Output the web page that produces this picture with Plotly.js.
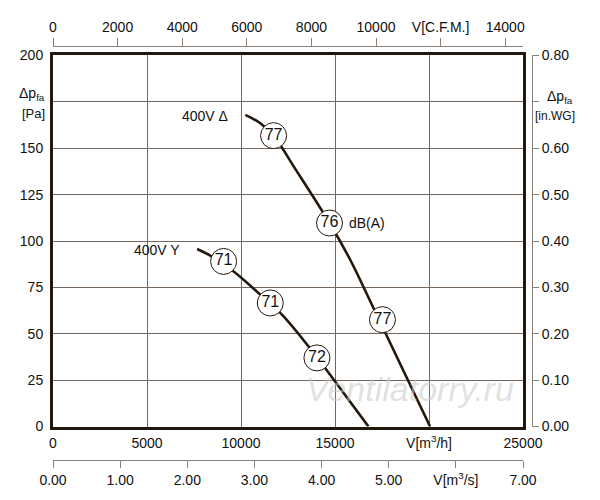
<!DOCTYPE html>
<html>
<head>
<meta charset="utf-8">
<script src="https://cdn.plot.ly/plotly-3.0.1.min.js"></script>
<style>html,body{margin:0;padding:0;background:#fff;}#chart{width:600px;height:500px;}</style>
</head>
<body>
<div id="chart"></div>
<script>
// Curve data: airflow V [m3/h] vs static pressure dp_fa [Pa]
const deltaFlow = [10229, 11026, 11732, 12885, 14708, 15808, 17046, 20058];
const deltaPress = [168.0, 163.5, 156.8, 138.9, 109.7, 89.9, 63.9, 0];
const starFlow = [7662, 8279, 9607, 11026, 12178, 13592, 14532, 16780];
const starPress = [95.7, 92.6, 83.6, 71.1, 60.3, 43.2, 30.7, 0];

// Noise level markers dB(A)
const deltaNoiseFlow = [11732, 14708, 17524];
const deltaNoisePress = [156.8, 109.7, 57.6];
const deltaNoise = ['77', '76', '77'];
const starNoiseFlow = [9076, 11557, 14038];
const starNoisePress = [89.0, 66.6, 37.0];
const starNoise = ['71', '71', '72'];

// Tick labels
const paTicks = [0, 25, 50, 75, 100, 125, 150, 175, 200];
const paLabels = ['0', '25', '50', '75', '100', '125', '150', '', '200'];
const wgTicks = [0, 0.1, 0.2, 0.3, 0.4, 0.5, 0.6, 0.7, 0.8];
const wgLabels = ['0.00', '0.10', '0.20', '0.30', '0.40', '0.50', '0.60', '', '0.80'];
const m3hTicks = [0, 5000, 10000, 15000, 20000, 25000];
const m3hLabels = ['0', '5000', '10000', '15000', 'V[m<sup>3</sup>/h]', '25000'];
const cfmTicks = [0, 2000, 4000, 6000, 8000, 10000, 12000, 14000];
const cfmLabels = ['0', '2000', '4000', '6000', '8000', '10000', 'V[C.F.M.]', '14000'];
const m3sTicks = [0, 1, 2, 3, 4, 5, 6, 7];
const m3sLabels = ['0.00', '1.00', '2.00', '3.00', '4.00', '5.00', 'V[m<sup>3</sup>/s]', '7.00'];

const ink = '#24180c';
const gridC = '#74685e';
const axC = '#8a8078';
const F = 'Liberation Sans, Arial, sans-serif';

const traces = [
  {x: deltaFlow, y: deltaPress, mode: 'lines', line: {color: ink, width: 2.6, shape: 'spline', smoothing: 1}, hoverinfo: 'skip'},
  {x: starFlow, y: starPress, mode: 'lines', line: {color: ink, width: 2.6, shape: 'spline', smoothing: 1}, hoverinfo: 'skip'},
  {x: deltaNoiseFlow.concat(starNoiseFlow), y: deltaNoisePress.concat(starNoisePress),
   text: deltaNoise.concat(starNoise), mode: 'markers+text', textposition: 'middle center',
   textfont: {family: F, size: 16, color: '#111'},
   marker: {size: 26, color: '#fff', line: {color: ink, width: 1}}, hoverinfo: 'skip'},
  // invisible traces so the extra axes are drawn
  {x: [0], y: [0], xaxis: 'x2', yaxis: 'y', mode: 'markers', marker: {opacity: 0}, hoverinfo: 'skip'},
  {x: [0], y: [0], xaxis: 'x3', yaxis: 'y', mode: 'markers', marker: {opacity: 0}, hoverinfo: 'skip'},
  {x: [0], y: [0], xaxis: 'x', yaxis: 'y2', mode: 'markers', marker: {opacity: 0}, hoverinfo: 'skip'}
];

const xd = 470.5 / 479.5;
const layout = {
  width: 600, height: 500,
  margin: {l: 52.5, r: 68, t: 46, b: 39.5},
  paper_bgcolor: '#fff', plot_bgcolor: '#fff',
  showlegend: false,
  font: {family: F, size: 14, color: '#111'},
  xaxis: {
    domain: [0, xd], range: [0, 25000], tickvals: m3hTicks, ticktext: m3hLabels,
    showgrid: true, gridcolor: gridC, gridwidth: 1, zeroline: false,
    showline: true, linecolor: ink, linewidth: 3, mirror: true,
    ticks: 'outside', ticklen: 2, tickcolor: 'rgba(0,0,0,0)', tickfont: {family: F, size: 14, color: '#111'}
  },
  yaxis: {
    domain: [(460.5 - 427) / 414.5, (460.5 - 55.5) / 414.5], range: [0, 200],
    tickvals: paTicks, ticktext: paLabels,
    showgrid: true, gridcolor: gridC, gridwidth: 1, zeroline: false,
    showline: true, linecolor: ink, linewidth: 3, mirror: true,
    ticks: 'outside', ticklen: 4, tickcolor: 'rgba(0,0,0,0)', tickfont: {family: F, size: 14, color: '#111'}
  },
  xaxis2: {
    domain: [0, xd], range: [0, 14000 * 470.5 / 452.7], overlaying: 'x', side: 'top', anchor: 'free', position: 1,
    tickvals: cfmTicks, ticktext: cfmLabels, showgrid: false, zeroline: false,
    showline: true, linecolor: axC, linewidth: 1, ticks: 'outside', ticklen: 8, tickcolor: axC,
    tickfont: {family: F, size: 14, color: '#111'}
  },
  xaxis3: {
    domain: [0, 474 / 479.5], range: [0, 7], overlaying: 'x', side: 'bottom', anchor: 'free', position: 0,
    tickvals: m3sTicks, ticktext: m3sLabels, showgrid: false, zeroline: false,
    showline: true, linecolor: axC, linewidth: 1, ticks: 'outside', ticklen: 7, tickcolor: axC,
    tickfont: {family: F, size: 14, color: '#111'}
  },
  yaxis2: {
    domain: [(460.5 - 427) / 414.5, (460.5 - 55.5) / 414.5], range: [0, 0.8], overlaying: 'y', side: 'right',
    anchor: 'free', position: 1,
    tickvals: wgTicks, ticktext: wgLabels, showgrid: false, zeroline: false,
    showline: true, linecolor: axC, linewidth: 1, ticks: 'outside', ticklen: 6, tickcolor: axC,
    tickfont: {family: F, size: 14, color: '#111'}
  },
  annotations: [
    {text: '400V Δ', x: 9431, y: 167.4, xref: 'x', yref: 'y', xanchor: 'right', yanchor: 'middle', showarrow: false, font: {family: F, size: 14, color: '#111'}},
    {text: '400V Y', x: 6881, y: 95.3, xref: 'x', yref: 'y', xanchor: 'right', yanchor: 'middle', showarrow: false, font: {family: F, size: 14, color: '#111'}},
    {text: 'dB(A)', x: 15650, y: 109.5, xref: 'x', yref: 'y', xanchor: 'left', yanchor: 'middle', showarrow: false, font: {family: F, size: 14, color: '#111'}},
    {text: 'Δp<sub>fa</sub>', x: -0.012, y: 179.5, xref: 'paper', yref: 'y', xanchor: 'right', yanchor: 'middle', showarrow: false, font: {family: F, size: 14, color: '#111'}},
    {text: '[Pa]', x: -0.012, y: 168.5, xref: 'paper', yref: 'y', xanchor: 'right', yanchor: 'middle', showarrow: false, font: {family: F, size: 13, color: '#111'}},
    {text: 'Δp<sub>fa</sub>', x: 1.058, y: 177.5, xref: 'paper', yref: 'y', xanchor: 'center', yanchor: 'middle', showarrow: false, font: {family: F, size: 14, color: '#111'}},
    {text: '[in.WG]', x: 1.048, y: 167.5, xref: 'paper', yref: 'y', xanchor: 'center', yanchor: 'middle', showarrow: false, font: {family: F, size: 12, color: '#111'}},
    {text: '<i>Ventilatorry.ru</i>', x: 19000, y: 20, xref: 'x', yref: 'y', xanchor: 'center', yanchor: 'middle', showarrow: false, font: {family: F, size: 34, color: 'rgba(200,200,200,0.55)'}}
  ]
};

Plotly.newPlot('chart', traces, layout, {staticPlot: true, displayModeBar: false});
</script>
</body>
</html>
